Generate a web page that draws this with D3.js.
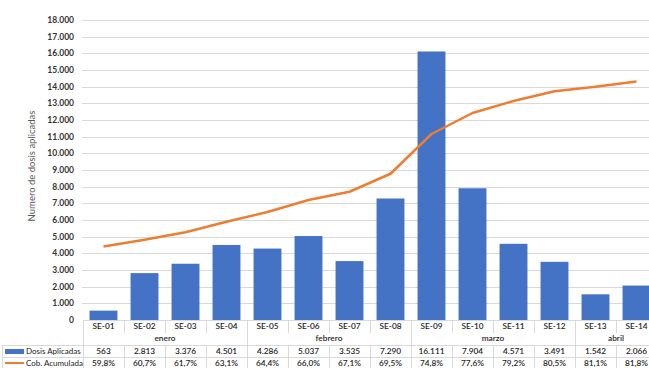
<!DOCTYPE html>
<html lang="es">
<head>
<meta charset="utf-8">
<title>Dosis aplicadas</title>
<script src="https://d3js.org/d3.v7.min.js"></script>
<style>
  body { margin: 0; background: #fff; }
  svg { display: block; font-family: Lato, "Open Sans", sans-serif; }
  .grid line { stroke: #d9d9d9; stroke-width: 1; }
  .tick-lbl { font-size: 8.5px; font-weight: bold; fill: #333; }
  .cell { font-size: 8.3px; font-weight: 600; fill: #262626; }
  .hdr { font-size: 8px; font-weight: normal; fill: #1a1a1a; }
  .tbl { stroke: #d9d9d9; stroke-width: 1; shape-rendering: crispEdges; }
</style>
</head>
<body>
<script>
// data
const weeks = ["SE-01","SE-02","SE-03","SE-04","SE-05","SE-06","SE-07","SE-08","SE-09","SE-10","SE-11","SE-12","SE-13","SE-14"];
const dosis = [563, 2813, 3376, 4501, 4286, 5037, 3535, 7290, 16111, 7904, 4571, 3491, 1542, 2066];
const cobertura = [59.8, 60.7, 61.7, 63.1, 64.4, 66.0, 67.1, 69.5, 74.8, 77.6, 79.2, 80.5, 81.1, 81.8];
const months = ["enero", "febrero", "marzo", "abril"];
const monthSpan = [4, 4, 4, 2];
const yTicks = d3.range(0, 18001, 1000);

const w = 649, h = 368;
const plotLeft = 83, plotRight = 657;
const plotTop = 20, base = 320;

const svg = d3.select("body").append("svg").attr("width", w).attr("height", h);

const x = d3.scaleBand().domain(weeks).range([plotLeft, plotRight]).padding(0);
const y = d3.scaleLinear().domain([0, 18000]).range([base, plotTop]);
const y2 = d3.scaleLinear().domain([50, 90]).range([base, plotTop]);
const fmt = d3.formatLocale({decimal: ",", thousands: ".", grouping: [3], currency: ["", ""]});
const num = fmt.format(",d");
const pct = v => fmt.format(".1f")(v) + "%";

// gridlines
svg.append("g").attr("class", "grid")
  .selectAll("line").data(yTicks.filter(d => d > 0)).join("line")
  .attr("x1", plotLeft - 1).attr("x2", w)
  .attr("y1", d => Math.round(y(d)) + 0.5).attr("y2", d => Math.round(y(d)) + 0.5);

// y tick labels
svg.append("g").selectAll("text").data(yTicks).join("text")
  .attr("class", "tick-lbl")
  .attr("x", 74).attr("y", d => y(d)).attr("dy", "0.35em")
  .attr("text-anchor", "end")
  .text(d => num(d));

// axis title
svg.append("text")
  .attr("transform", "translate(35,166) rotate(-90)")
  .attr("text-anchor", "middle")
  .attr("font-size", 9.5).attr("fill", "#595959")
  .text("Numero de dosis aplicadas");

// bars
const bw = x.bandwidth() * 0.68;
svg.append("g").selectAll("rect").data(dosis).join("rect")
  .attr("x", (d, i) => x(weeks[i]) + (x.bandwidth() - bw) / 2)
  .attr("y", d => y(d))
  .attr("width", bw)
  .attr("height", d => base - y(d))
  .attr("fill", "#4472c4");

// line
const line = d3.line()
  .x((d, i) => x(weeks[i]) + x.bandwidth() / 2)
  .y(d => y2(d));
svg.append("path").datum(cobertura)
  .attr("d", line)
  .attr("fill", "none")
  .attr("stroke", "#ed7d31")
  .attr("stroke-width", 2.5)
  .attr("stroke-linejoin", "round");

// data table
const rowCat = 326.5, rowMonth = 338.5, rowDosis = 351.5, rowCob = 363;
const t = svg.append("g");
const hl = (yy, x1) => t.append("line").attr("class", "tbl")
  .attr("x1", x1).attr("x2", w).attr("y1", yy).attr("y2", yy);
hl(320.5, plotLeft);
hl(345.5, 2);
hl(357.5, 2);

// vertical separators
weeks.forEach((wk, i) => {
  const xx = Math.round(x(wk)) + 0.5;
  t.append("line").attr("class", "tbl").attr("x1", xx).attr("x2", xx).attr("y1", 320).attr("y2", 333);
  t.append("line").attr("class", "tbl").attr("x1", xx).attr("x2", xx).attr("y1", 345).attr("y2", 368);
});
let acc = 0;
months.forEach((m, i) => {
  const x0 = x(weeks[acc]);
  const x1 = acc + monthSpan[i] < weeks.length ? x(weeks[acc + monthSpan[i]]) : plotRight;
  const xx = Math.round(x0) + 0.5;
  t.append("line").attr("class", "tbl").attr("x1", xx).attr("x2", xx).attr("y1", 320).attr("y2", 345);
  t.append("text").attr("class", "cell")
    .attr("x", (x0 + x1) / 2).attr("y", rowMonth).attr("dy", "0.35em")
    .attr("text-anchor", "middle").text(m);
  acc += monthSpan[i];
});
t.append("line").attr("class", "tbl").attr("x1", 2.5).attr("x2", 2.5).attr("y1", 345).attr("y2", 368);

t.selectAll(".cat").data(weeks).join("text").attr("class", "cell cat")
  .attr("x", d => x(d) + x.bandwidth() / 2).attr("y", rowCat).attr("dy", "0.35em")
  .attr("text-anchor", "middle").text(d => d);
t.selectAll(".dv").data(dosis).join("text").attr("class", "cell dv")
  .attr("x", (d, i) => x(weeks[i]) + x.bandwidth() / 2).attr("y", rowDosis).attr("dy", "0.35em")
  .attr("text-anchor", "middle").text(d => num(d));
t.selectAll(".cv").data(cobertura).join("text").attr("class", "cell cv")
  .attr("x", (d, i) => x(weeks[i]) + x.bandwidth() / 2).attr("y", rowCob).attr("dy", "0.35em")
  .attr("text-anchor", "middle").text(d => pct(d));

// row headers with legend keys
t.append("rect").attr("x", 5).attr("y", rowDosis - 2.5).attr("width", 19).attr("height", 5).attr("fill", "#4472c4");
t.append("line").attr("x1", 5).attr("x2", 24).attr("y1", rowCob).attr("y2", rowCob)
  .attr("stroke", "#ed7d31").attr("stroke-width", 2);
t.append("text").attr("class", "hdr").attr("x", 26).attr("y", rowDosis).attr("dy", "0.35em").text("Dosis Aplicadas");
t.append("text").attr("class", "hdr").attr("x", 26).attr("y", rowCob).attr("dy", "0.35em").text("Cob. Acumulada");
</script>
</body>
</html>
